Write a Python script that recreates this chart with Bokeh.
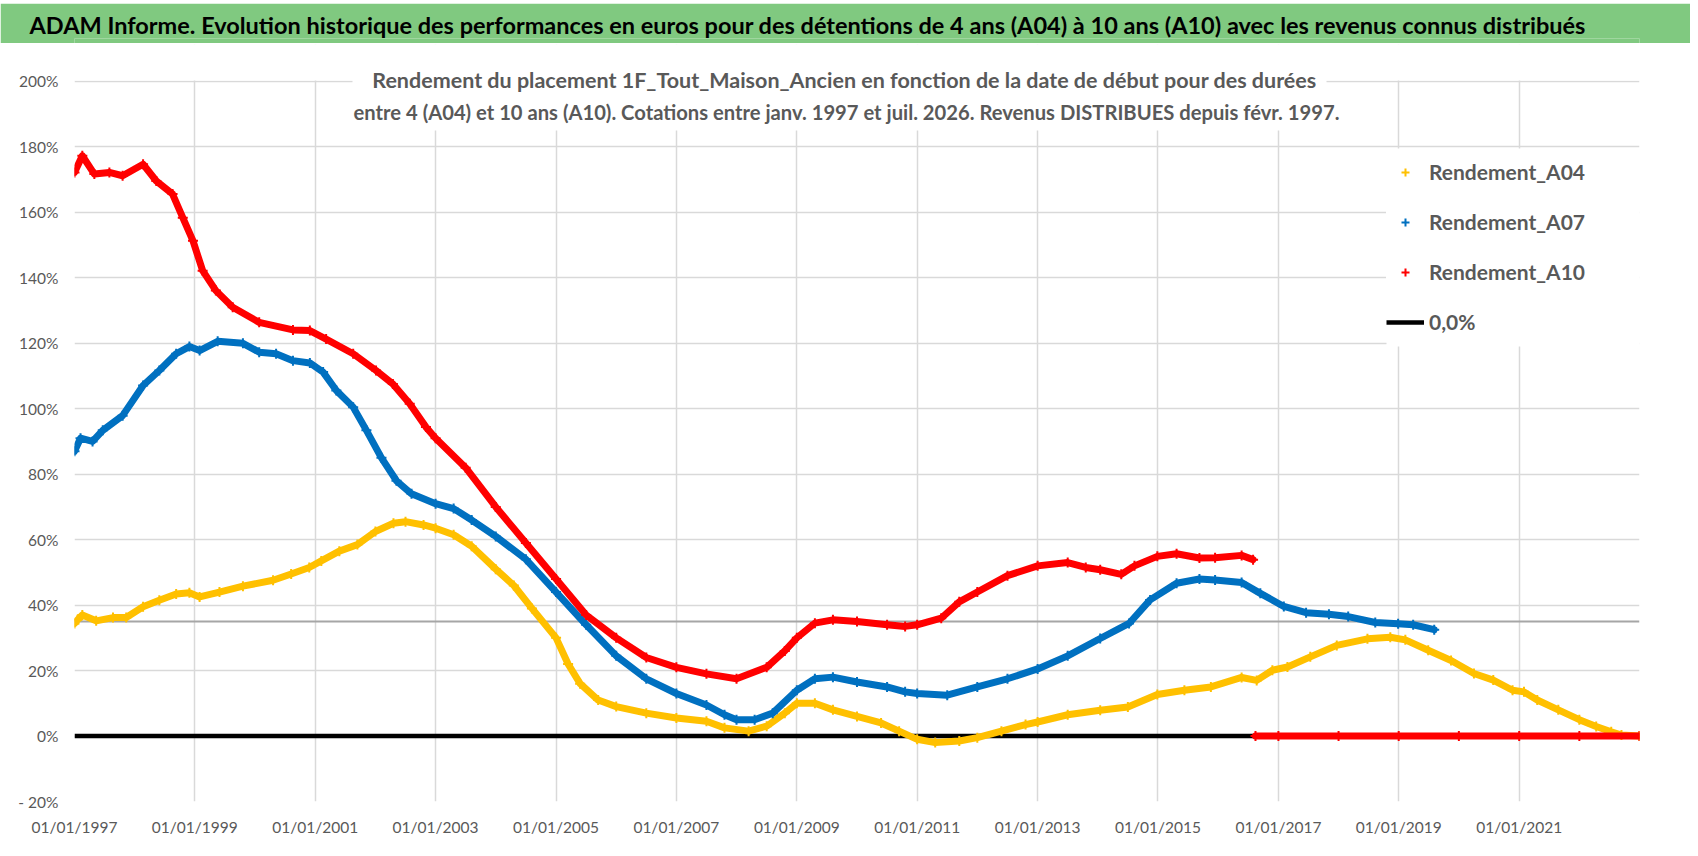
import math
import pandas as pd
from bokeh.plotting import figure
from bokeh.layouts import column
from bokeh.models import (ColumnDataSource, FixedTicker, DatetimeTickFormatter, Range1d,
                          Legend, LegendItem, Label, BoxAnnotation, Span)
from bokeh.embed import file_html
from bokeh.resources import INLINE

# ---------------- texts ----------------
title_text = ("ADAM Informe. Evolution historique des performances en euros pour des détentions "
              "de 4 ans (A04) à 10 ans (A10) avec les revenus connus distribués")
subtitle_1 = "Rendement du placement 1F_Tout_Maison_Ancien en fonction de la date de début pour des durées"
subtitle_2 = ("entre 4 (A04) et 10 ans (A10). Cotations entre janv. 1997 et juil. 2026. "
              "Revenus DISTRIBUES depuis févr. 1997.")

# ---------------- axes ----------------
x_start, x_end = 1997.0, 2023.0
tick_years = [1997, 1999, 2001, 2003, 2005, 2007, 2009, 2011, 2013, 2015, 2017, 2019, 2021]
y_ticks = [-20, 0, 20, 40, 60, 80, 100, 120, 140, 160, 180, 200]
y_tick_labels = ["- 20%", "0%", "20%", "40%", "60%", "80%", "100%", "120%", "140%",
                 "160%", "180%", "200%"]
y_min, y_max_view = -20.0, 211.3
axis_cross_level = 35.0

# ---------------- series (decimal years, %) ----------------
a04_t = [1997.0, 1997.05, 1997.13, 1997.36, 1997.64, 1997.86, 1998.14, 1998.41, 1998.69, 1998.91,
         1999.08, 1999.41, 1999.8, 2000.3, 2000.6, 2000.9, 2001.1, 2001.4, 2001.7, 2002.0,
         2002.3, 2002.5, 2002.8, 2003.0, 2003.3, 2003.6, 2004.0, 2004.3, 2004.6, 2005.0,
         2005.2, 2005.4, 2005.7, 2006.0, 2006.5, 2007.0, 2007.5, 2007.8, 2008.2, 2008.5,
         2008.8, 2009.0, 2009.3, 2009.6, 2010.0, 2010.4, 2010.7, 2011.0, 2011.3, 2011.7,
         2012.0, 2012.4, 2012.8, 2013.0, 2013.5, 2014.04, 2014.5, 2014.99, 2015.44, 2015.88,
         2016.39, 2016.64, 2016.9, 2017.15, 2017.53, 2017.97, 2018.48, 2018.86, 2019.11, 2019.49,
         2019.87, 2020.25, 2020.57, 2020.89, 2021.08, 2021.3, 2021.65, 2022.0, 2022.28, 2022.53,
         2022.7, 2023.0]
a04_v = [34.4, 35.5, 37.0, 35.2, 36.2, 36.2, 39.5, 41.5, 43.4, 43.8,
         42.5, 44.0, 45.8, 47.6, 49.5, 51.5, 53.5, 56.5, 58.5, 62.5,
         65.0, 65.5, 64.5, 63.5, 61.5, 58.0, 51.0, 46.0, 39.0, 30.0,
         22.0, 16.0, 11.0, 9.0, 7.0, 5.5, 4.5, 2.5, 1.5, 3.0,
         7.0, 10.0, 10.0, 8.0, 6.0, 4.0, 1.5, -1.0, -2.0, -1.5,
         -0.5, 1.5, 3.5, 4.3, 6.5, 7.9, 8.9, 12.7, 14.0, 15.0,
         17.9, 17.0, 20.1, 21.1, 24.2, 27.7, 29.7, 30.2, 29.4, 26.2,
         23.1, 19.1, 17.1, 14.0, 13.5, 11.0, 8.0, 5.0, 2.9, 1.3,
         0.3, 0.0]

a07_t = [1997.0, 1997.1, 1997.3, 1997.47, 1997.8, 1998.14, 1998.41, 1998.69, 1998.91, 1999.08,
         1999.38, 1999.8, 2000.07, 2000.35, 2000.63, 2000.91, 2001.13, 2001.35, 2001.63, 2001.85,
         2002.1, 2002.35, 2002.6, 2003.0, 2003.3, 2003.6, 2004.0, 2004.5, 2005.0, 2005.5,
         2006.0, 2006.5, 2007.0, 2007.5, 2007.8, 2008.0, 2008.3, 2008.6, 2009.0, 2009.3,
         2009.6, 2010.0, 2010.5, 2010.8, 2011.0, 2011.5, 2012.0, 2012.5, 2013.0, 2013.5,
         2014.04, 2014.52, 2014.87, 2015.31, 2015.69, 2015.95, 2016.39, 2016.7, 2017.09, 2017.46,
         2017.84, 2018.16, 2018.61, 2018.99, 2019.24, 2019.59]
a07_v = [87.0, 91.0, 90.0, 93.4, 97.9, 107.1, 111.7, 116.8, 119.0, 117.8,
         120.6, 120.0, 117.3, 116.8, 114.7, 114.0, 111.2, 105.6, 100.5, 93.4,
         85.0, 78.0, 74.0, 71.0, 69.5, 66.0, 61.0, 54.0, 44.0, 34.0,
         24.5, 17.5, 13.0, 9.5, 6.5, 5.0, 5.0, 7.0, 14.0, 17.5,
         18.0, 16.5, 15.0, 13.5, 13.0, 12.5, 15.0, 17.5, 20.5, 24.5,
         29.8, 34.4, 41.6, 46.7, 48.0, 47.7, 46.9, 43.6, 39.6, 37.7,
         37.2, 36.5, 34.7, 34.3, 34.0, 32.5]

nan = float("nan")
a10_t = [1997.0, 1997.13, 1997.33, 1997.58, 1997.8, 1998.14, 1998.36, 1998.63, 1998.8, 1998.97,
         1999.13, 1999.35, 1999.63, 2000.07, 2000.63, 2000.91, 2001.18, 2001.63, 2002.01, 2002.29,
         2002.57, 2002.84, 2003.0, 2003.5, 2004.0, 2004.5, 2005.0, 2005.5, 2006.0, 2006.5,
         2007.0, 2007.5, 2008.0, 2008.5, 2008.8, 2009.0, 2009.3, 2009.6, 2010.0, 2010.5,
         2010.8, 2011.0, 2011.4, 2011.7, 2012.0, 2012.5, 2013.0, 2013.5, 2013.8, 2014.04,
         2014.39, 2014.61, 2014.99, 2015.31, 2015.69, 2015.95, 2016.39, 2016.58, 2016.6,
         2016.62, 2017.0, 2018.0, 2019.0, 2020.0, 2021.0, 2022.0, 2023.0]
a10_v = [172.2, 177.3, 171.7, 172.2, 171.2, 174.7, 169.6, 165.6, 158.4, 151.3,
         142.2, 136.1, 131.0, 126.4, 124.1, 123.9, 121.3, 116.8, 111.7, 107.6,
         101.5, 94.4, 91.0, 82.0, 70.0, 59.0, 48.0, 37.0, 30.0, 24.0,
         21.0, 19.0, 17.5, 21.0, 26.0, 30.0, 34.5, 35.5, 35.0, 34.0,
         33.5, 34.0, 36.0, 41.0, 44.0, 49.0, 52.0, 53.0, 51.5, 50.8,
         49.4, 52.0, 54.9, 55.7, 54.4, 54.5, 55.2, 53.9, nan,
         0.0, 0.0, 0.0, 0.0, 0.0, 0.0, 0.0, 0.0]

zero_t = [1997.0, 2023.0]
zero_v = [0.0, 0.0]


def to_dt(years):
    out = []
    for y in years:
        yi = int(math.floor(y))
        a = pd.Timestamp(year=yi, month=1, day=1)
        b = pd.Timestamp(year=yi + 1, month=1, day=1)
        out.append(a + (b - a) * (y - yi))
    return pd.to_datetime(out)


def to_ms(years):
    return [float(ts.value // 10**6) for ts in to_dt(years)]


def sbox(fig, l, r, b, t, **kw):
    fig.add_layout(BoxAnnotation(left=l, right=r, bottom=b, top=t,
                                 left_units="screen", right_units="screen",
                                 top_units="screen", bottom_units="screen", **kw))


def strip(height, color):
    s = figure(width=W, height=height, output_backend="svg", toolbar_location=None,
               x_axis_location=None, y_axis_location=None, min_border=0,
               x_range=Range1d(0, 1), y_range=Range1d(0, 1))
    s.grid.visible = False
    s.outline_line_color = None
    s.background_fill_color = color
    s.border_fill_color = color
    return s


FONT = "Lato"
GREY_TXT = "#595959"
GREEN = "#80c980"
W = 1690

# ---------------- title strip ----------------
top_gap = strip(3, "white")
tf = figure(width=W, height=40, output_backend="svg", toolbar_location=None,
            x_axis_location=None, y_axis_location=None,
            min_border_top=35, min_border_bottom=0, min_border_left=0, min_border_right=0,
            x_range=Range1d(0, 1), y_range=Range1d(0, 1), title=title_text)
tf.grid.visible = False
tf.outline_line_color = None
tf.background_fill_color = GREEN
tf.border_fill_color = GREEN
tf.title.align = "left"
tf.title.offset = -45
tf.title.standoff = 0
tf.title.text_font = FONT
tf.title.text_font_style = "bold"
tf.title.text_font_size = "23.5px"
tf.title.text_color = "black"

# ---------------- main chart ----------------
p = figure(width=W, height=801, output_backend="svg", toolbar_location=None,
           x_axis_type="datetime",
           x_range=Range1d(to_dt([x_start])[0], to_dt([x_end])[0]),
           y_range=Range1d(y_min, y_max_view),
           min_border_left=74, min_border_right=51, min_border_top=1, min_border_bottom=43)
p.outline_line_color = None
p.background_fill_color = "white"
p.border_fill_color = "white"

xt = FixedTicker(ticks=to_ms(tick_years))
p.xaxis.ticker = xt
p.xgrid.ticker = xt
p.xaxis.formatter = DatetimeTickFormatter(days="%d/%m/%Y", months="%d/%m/%Y", years="%d/%m/%Y")
yt = FixedTicker(ticks=y_ticks)
p.yaxis.ticker = yt
p.ygrid.ticker = yt
p.yaxis.major_label_overrides = {t: lab for t, lab in zip(y_ticks, y_tick_labels)}

for ax in (p.xaxis[0], p.yaxis[0]):
    ax.axis_line_color = None
    ax.major_tick_line_color = None
    ax.minor_tick_line_color = None
    ax.major_label_text_font = FONT
    ax.major_label_text_font_size = "15.5px"
    ax.major_label_text_color = GREY_TXT
p.yaxis.major_label_standoff = 10
p.xaxis.major_label_standoff = 10

for g in (p.xgrid[0], p.ygrid[0]):
    g.grid_line_color = "#d9d9d9"
    g.grid_line_width = 1.5

p.add_layout(Span(location=axis_cross_level, dimension="width", line_color="#a6a6a6",
                  line_width=2, level="underlay"))

# series
zero_src = ColumnDataSource(dict(x=to_dt(zero_t), y=zero_v))
r_zero = p.line("x", "y", source=zero_src, line_color="black", line_width=4.5)

legend_items = []
for name, t, v, col in [("Rendement_A04", a04_t, a04_v, "#FFC000"),
                        ("Rendement_A07", a07_t, a07_v, "#0070C0"),
                        ("Rendement_A10", a10_t, a10_v, "#FF0000")]:
    src = ColumnDataSource(dict(x=to_dt(t), y=v))
    p.line("x", "y", source=src, line_color=col, line_width=7, line_join="round", line_cap="round")
    sc = p.scatter("x", "y", source=src, marker="cross", size=10, line_color=col, line_width=2)
    legend_items.append(LegendItem(label=name, renderers=[sc]))
legend_items.append(LegendItem(label="0,0%", renderers=[r_zero]))

# white area above the 200% line, subtitle box, legend box
sbox(p, -5, 1600, 721, 780, fill_color="white", fill_alpha=1.0, line_color=None)
sbox(p, 278, 1252, 671, 725, fill_color="white", fill_alpha=1.0, line_color=None)
sbox(p, 1312, 1570, 455, 653, fill_color="white", fill_alpha=1.0, line_color=None)

legend = Legend(items=legend_items, location=(1312, 467), orientation="vertical",
                border_line_color=None, background_fill_color="white", background_fill_alpha=1.0,
                label_text_font=FONT, label_text_font_style="bold", label_text_font_size="21px",
                label_text_color=GREY_TXT, glyph_width=38, glyph_height=20, label_height=20,
                spacing=25, padding=6, label_standoff=5, margin=0)
p.add_layout(legend)

p.add_layout(Label(x=770, y=722, x_units="screen", y_units="screen", text=subtitle_1,
                   text_font=FONT, text_font_style="bold", text_font_size="21.5px",
                   text_color=GREY_TXT, text_align="center", text_baseline="middle"))
p.add_layout(Label(x=772, y=690, x_units="screen", y_units="screen", text=subtitle_2,
                   text_font=FONT, text_font_style="bold", text_font_size="20.2px",
                   text_color=GREY_TXT, text_align="center", text_baseline="middle"))

bottom_line = strip(1, "#d0d0d0")

layout = column(top_gap, tf, p, bottom_line, spacing=0)
open("out.html", "w").write(file_html(layout, INLINE))
